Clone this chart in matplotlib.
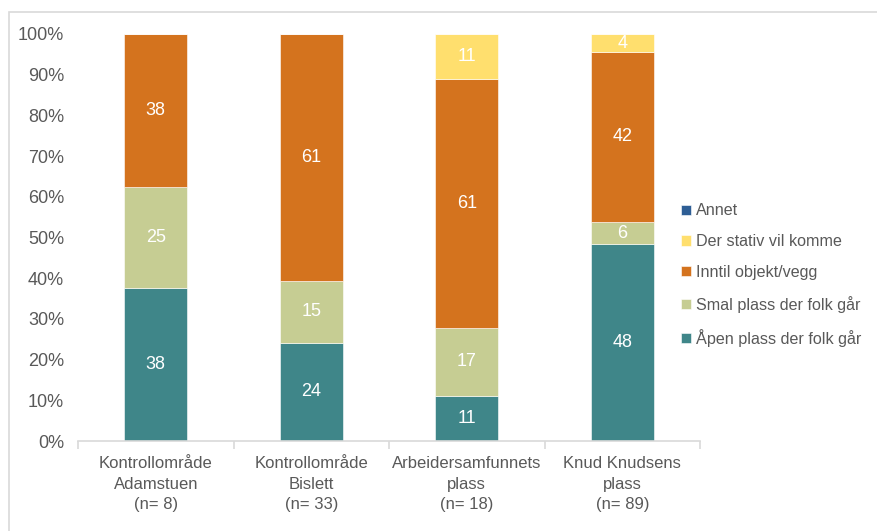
import matplotlib
matplotlib.use("Agg")
import matplotlib.pyplot as plt
from matplotlib.patches import Rectangle
import numpy as np

plt.rcParams['font.family'] = ['Liberation Sans', 'DejaVu Sans']

# data (andel i prosent per kontrollområde)
categories = ["Kontrollområde\nAdamstuen\n(n= 8)",
              "Kontrollområde\nBislett\n(n= 33)",
              "Arbeidersamfunnets\nplass\n(n= 18)",
              "Knud Knudsens\nplass\n(n= 89)"]
series_names = ["Åpen plass der folk går", "Smal plass der folk går",
                "Inntil objekt/vegg", "Der stativ vil komme", "Annet"]
aapen = [37.5, 24.2, 11.1, 48.3]
smal = [25.0, 15.2, 16.7, 5.6]
inntil = [37.5, 60.6, 61.1, 41.6]
stativ = [0.0, 0.0, 11.1, 4.5]
annet = [0.0, 0.0, 0.0, 0.0]

colors = ["#3F8689", "#C6CD93", "#D4731E", "#FFDF6E", "#2E5E95"]
grey = "#595959"

fig = plt.figure(figsize=(8.77, 5.31), dpi=100)
ax = fig.add_axes([78/877, 1-441/531, (700-78)/877, (441-34)/531])

# ramme rundt diagrammet
fig.patches.append(Rectangle((9/877, -0.05), 1.2, 1-12/531+0.05, transform=fig.transFigure,
                             fill=False, edgecolor="#D9D9D9", linewidth=1.2))

x = np.arange(len(categories))
bottom = np.zeros(len(categories))
handles = []
for name, vals, col in zip(series_names, [aapen, smal, inntil, stativ, annet], colors):
    vals = np.array(vals)
    b = ax.bar(x, vals, 0.405, bottom=bottom, color=col, edgecolor="white",
               linewidth=0.4, label=name)
    handles.append(b)
    for xi, v, bt in zip(x, vals, bottom):
        if v > 0:
            ax.text(xi, bt + v/2, f"{v:.0f}", ha="center", va="center",
                    color="white", fontsize=13)
    bottom += vals

ax.set_xlim(-0.5, len(categories) - 0.5)
ax.set_ylim(0, 100)
ax.set_yticks(range(0, 101, 10))
ax.set_yticklabels([f"{t}%" for t in range(0, 101, 10)], fontsize=13, color=grey)
ax.set_xticks(x)
ax.set_xticklabels(categories, fontsize=12, color=grey, linespacing=1.45)
ax.tick_params(axis="x", length=0, pad=11)
ax.tick_params(axis="y", length=0, pad=10)
ax.set_xticks(np.arange(-0.5, len(categories)), minor=True)
ax.tick_params(axis="x", which="minor", length=6, color="#D9D9D9", width=1.2)
for s in ["top", "right", "left"]:
    ax.spines[s].set_visible(False)
ax.spines["bottom"].set_color("#D9D9D9")
ax.spines["bottom"].set_linewidth(1.2)

leg = fig.legend(handles[::-1], series_names[::-1], loc="center left",
                 bbox_to_anchor=(673/877, 1-275/531), frameon=False,
                 fontsize=11.6, handlelength=0.6, handleheight=0.6,
                 handletextpad=0.3, labelspacing=0.98, borderpad=0)
for t in leg.get_texts():
    t.set_color(grey)

fig.savefig("out.png", dpi=100)
